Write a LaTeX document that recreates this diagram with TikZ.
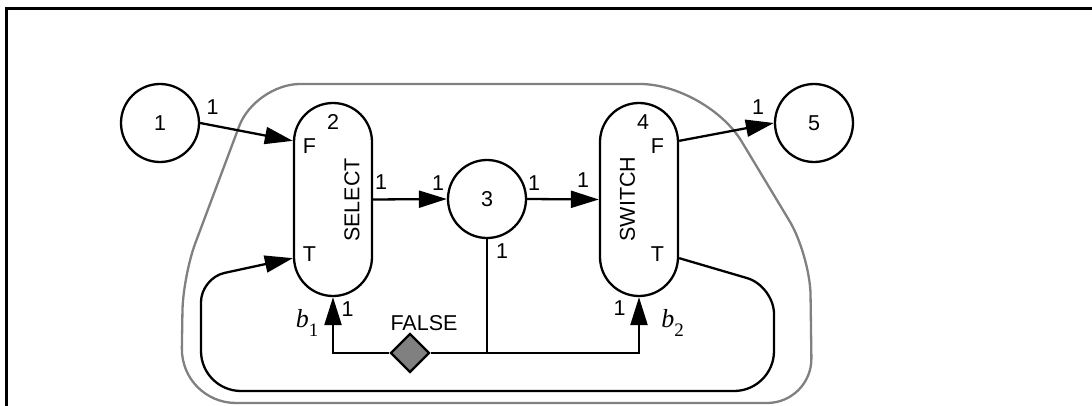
\documentclass[tikz,border=0pt]{standalone}
\usepackage{fontspec}
\setmainfont{Liberation Sans}
\newfontfamily\tms{Liberation Serif}
\usetikzlibrary{shapes.geometric,arrows.meta,calc}
\begin{document}
\begin{tikzpicture}[x=1pt,y=-1pt,
  line width=2.3pt,
  every node/.style={font=\fontsize{21.5}{21.5}\selectfont, inner sep=0pt},
  place/.style={circle, draw, minimum size=78pt},
  actor/.style={rectangle, draw, rounded corners=39pt, minimum width=78pt, minimum height=193pt},
  arr/.style={-{Triangle[length=28pt,width=17pt]}},
  region/.style={draw=black!50, line width=2.3pt},
  flag/.style={diamond, draw, fill=black!50, minimum width=39pt, minimum height=39pt, aspect=1},
  bvar/.style={font=\tms\fontsize{26}{26}\selectfont}
]
\useasboundingbox (0,0) rectangle (1092,406);

% frame
\draw[line width=3pt] (6.5,406) -- (6.5,8.5) -- (1092,8.5);

% enclosing region
\draw[region] (480,84) [rounded corners=67pt] -- (707,84) [rounded corners=40pt] -- (810,255)
  [rounded corners=45pt] -- (812,403) [rounded corners=55pt] -- (181,403)
  [rounded corners=35pt] -- (183,276) [rounded corners=45pt] -- (255,84) -- cycle;

% nodes
\node[place] (c1) at (160,123) {1};
\node[actor] (sel) at (333,199.5) {};
\node[place] (c3) at (487,199) {3};
\node[actor] (sw) at (639,199.5) {};
\node[place] (c5) at (814,123) {5};
\node[flag] (d) at (410,353) {};

\coordinate (selF) at ($(sel.north west)+(0,39)$);
\coordinate (selT) at ($(sel.south west)+(0,-39)$);
\coordinate (swF) at ($(sw.north east)+(0,39)$);
\coordinate (swT) at ($(sw.south east)+(0,-39)$);
\coordinate (j) at (c3.south |- d);

% inner labels
\node[rotate=90] (selname) at (352,200) {SELECT};
\node[rotate=90] (swname) at (627.5,199) {SWITCH};
\node (n2) at (333,122) {2};
\node (n4) at (643,122) {4};
\node (selFl) at (309.5,146.5) {F};
\node (selTl) at (309.5,254.5) {T};
\node (swFl) at (657.5,146) {F};
\node (swTl) at (657.5,254.5) {T};

% rate labels
\node (r1) at (212.5,107) {1};
\node (r2) at (381,182) {1};
\node (r3) at (438,183) {1};
\node (r4) at (534,183) {1};
\node (r5) at (583,180) {1};
\node (r6) at (758,107) {1};
\node (r7) at (502,251) {1};
\node (r8) at (347.5,309) {1};
\node (r9) at (619.7,308) {1};
\node (fl) at (424,323.5) {FALSE};
\node[bvar] (b1) at (307,323) {\itshape b\raisebox{-9pt}{\upshape\fontsize{19}{19}\selectfont 1}};
\node[bvar] (b2) at (672.5,323) {\itshape b\raisebox{-9pt}{\upshape\fontsize{19}{19}\selectfont 2}};

% connectors
\draw[arr] (c1.east) -- (selF);
\draw[arr] (sel.east) -- (c3.west);
\draw[arr] (c3.east) -- (sw.west);
\draw[arr] (swF) -- (c5.west);
\draw (c3.south) -- (j);
\draw[arr] (d.west) -| (sel.south);
\draw[arr] (d.east) -| (sw.south);
\draw[arr] (swT) [rounded corners=28pt] -- (774,286) [rounded corners=40pt] -- (774,391)
  -- (201,391) [rounded corners=24pt] -- (201,278) [sharp corners] -- (selT);
\end{tikzpicture}
\end{document}
